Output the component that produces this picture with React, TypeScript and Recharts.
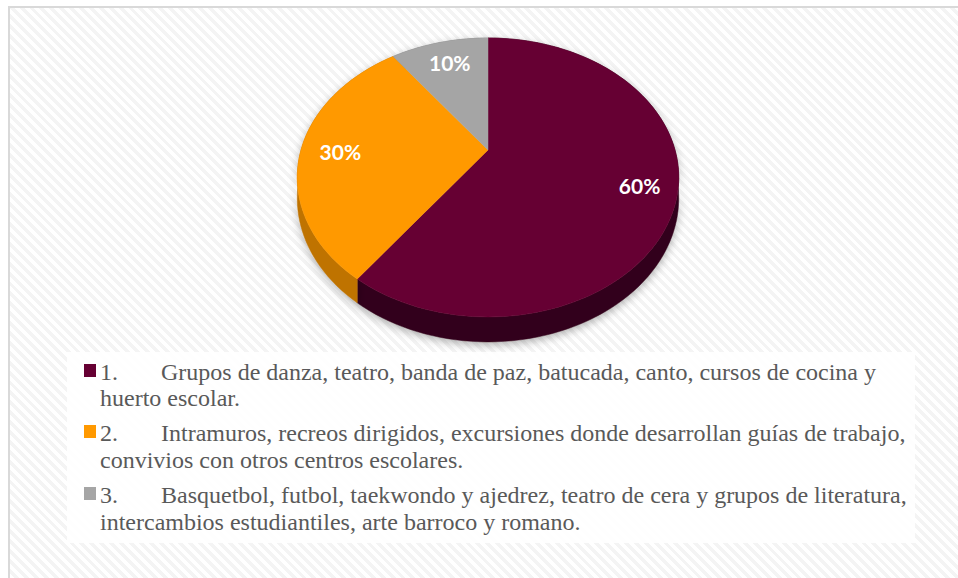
import React from 'react';
import { PieChart, Pie, Cell, Legend } from 'recharts';

const categories = [
    'Grupos de danza, teatro, banda de paz, batucada, canto, cursos de cocina y huerto escolar.',
    'Intramuros, recreos dirigidos, excursiones donde desarrollan guías de trabajo, convivios con otros centros escolares.',
    'Basquetbol, futbol, taekwondo y ajedrez, teatro de cera y grupos de literatura, intercambios estudiantiles, arte barroco y romano.',
];
const itemNumbers = ['1.', '2.', '3.'];
const shares = [60, 30, 10];

const data = categories.map((name, i) => ({ name, value: shares[i] }));

const topColors = ['#660033', '#FF9900', '#A5A5A5'];
const sideColors = ['#30001a', '#bf7300', '#7c7c7c'];

// tilted disc seen in perspective (far edge smaller than near edge)
const SQUASH = 0.717;
const TILT = 0.197;
const DEPTH = 0.107;

function project(cx: number, cy: number, r: number, deg: number, rho: number) {
    const a = (deg * Math.PI) / 180;
    const u = Math.cos(a) * rho;
    const v = -Math.sin(a) * rho;
    const w = 1 - TILT * v;
    return { x: cx + (r * u) / w, y: cy + (r * SQUASH * v) / w, w };
}

function arc(props: any) {
    const { cx, cy, outerRadius, startAngle, endAngle } = props;
    const n = Math.max(8, Math.ceil(Math.abs(endAngle - startAngle) / 2));
    const pts = [];
    for (let i = 0; i <= n; i++) {
        const a = startAngle + ((endAngle - startAngle) * i) / n;
        pts.push(project(cx, cy, outerRadius, a, 1));
    }
    return pts;
}

function TopFace(props: any) {
    const pts = arc(props);
    const c = project(props.cx, props.cy, props.outerRadius, 0, 0);
    const d = `M${c.x},${c.y} ` + pts.map((p) => `L${p.x},${p.y}`).join(' ') + ' Z';
    return <path d={d} fill={props.fill} stroke={props.fill} strokeWidth={0.5} />;
}

function SideFace(props: any) {
    const pts = arc(props);
    const depth = props.outerRadius * DEPTH;
    const top = pts.map((p) => `${p.x},${p.y}`);
    const bottom = [...pts].reverse().map((p) => `${p.x},${p.y + depth / p.w}`);
    const d = `M${top.join(' L')} L${bottom.join(' L')} Z`;
    return <path d={d} fill={props.fill} stroke={props.fill} strokeWidth={0.5} filter="url(#pieShadow)" />;
}

function renderLabel(props: any) {
    const { cx, cy, outerRadius, midAngle, percent } = props;
    const p = project(cx, cy, outerRadius, midAngle, 0.8);
    return (
        <text
            x={p.x + 2}
            y={p.y + 1}
            fill="#ffffff"
            textAnchor="middle"
            dominantBaseline="central"
            style={{ fontFamily: 'Lato, sans-serif', fontWeight: 700, fontSize: 21 }}
        >
            {`${Math.round(percent * 100)}%`}
        </text>
    );
}

function renderLegend({ payload }: any) {
    const items = (payload || [])
        .filter((e: any) => e.type !== 'none' && categories.includes(e.value))
        .sort((a: any, b: any) => categories.indexOf(a.value) - categories.indexOf(b.value));
    return (
        <div
            style={{
                background: 'rgba(255,255,255,0.85)',
                padding: '6.7px 0 0 0',
                height: 191,
                boxSizing: 'border-box',
                fontFamily: '"Liberation Serif", "Times New Roman", serif',
                fontSize: 24,
                lineHeight: '26.5px',
                color: '#595959',
            }}
        >
            {items.map((entry: any, i: number) => (
                <div key={i} style={{ position: 'relative', height: i === 1 ? 61.7 : 61.7 }}>
                    <span
                        style={{
                            position: 'absolute',
                            left: 17,
                            top: 5,
                            width: 12,
                            height: 13,
                            background: entry.color,
                        }}
                    />
                    <span style={{ position: 'absolute', left: 33, top: 0 }}>
                        {itemNumbers[categories.indexOf(entry.value)]}
                    </span>
                    <div style={{ marginLeft: 33, textIndent: 61 }}>{entry.value}</div>
                </div>
            ))}
        </div>
    );
}

export default function App() {
    return (
        <div
            style={{
                position: 'absolute',
                left: 8,
                top: 6,
                width: 950,
                height: 572,
                borderLeft: '2px solid #d9d9d9',
                borderTop: '2px solid #d9d9d9',
                boxSizing: 'border-box',
                background:
                    'repeating-linear-gradient(45deg, #ffffff 0px, #ffffff 3.5px, #f4f4f4 3.5px, #f4f4f4 7px)',
            }}
        >
            <PieChart width={948} height={570} margin={{ top: 0, right: 0, bottom: 0, left: 0 }}>
                <defs>
                    <filter id="pieShadow" x="-20%" y="-20%" width="140%" height="140%">
                        <feDropShadow dx="0" dy="3" stdDeviation="4" floodColor="#000" floodOpacity="0.3" />
                    </filter>
                </defs>
                <Pie
                    data={data}
                    dataKey="value"
                    nameKey="name"
                    cx={478}
                    cy={142}
                    outerRadius={187}
                    startAngle={90}
                    endAngle={-270}
                    legendType="none"
                    shape={SideFace}
                    isAnimationActive={false}
                >
                    {data.map((_, i) => (
                        <Cell key={i} fill={sideColors[i]} />
                    ))}
                </Pie>
                <Pie
                    data={data}
                    dataKey="value"
                    nameKey="name"
                    cx={478}
                    cy={142}
                    outerRadius={187}
                    startAngle={90}
                    endAngle={-270}
                    shape={TopFace}
                    label={renderLabel}
                    labelLine={false}
                    isAnimationActive={false}
                >
                    {data.map((_, i) => (
                        <Cell key={i} fill={topColors[i]} />
                    ))}
                </Pie>
                <Legend
                    verticalAlign="bottom"
                    content={renderLegend}
                    wrapperStyle={{ left: 57, top: 344, bottom: 'auto', width: 848, height: 191 }}
                />
            </PieChart>
        </div>
    );
}
